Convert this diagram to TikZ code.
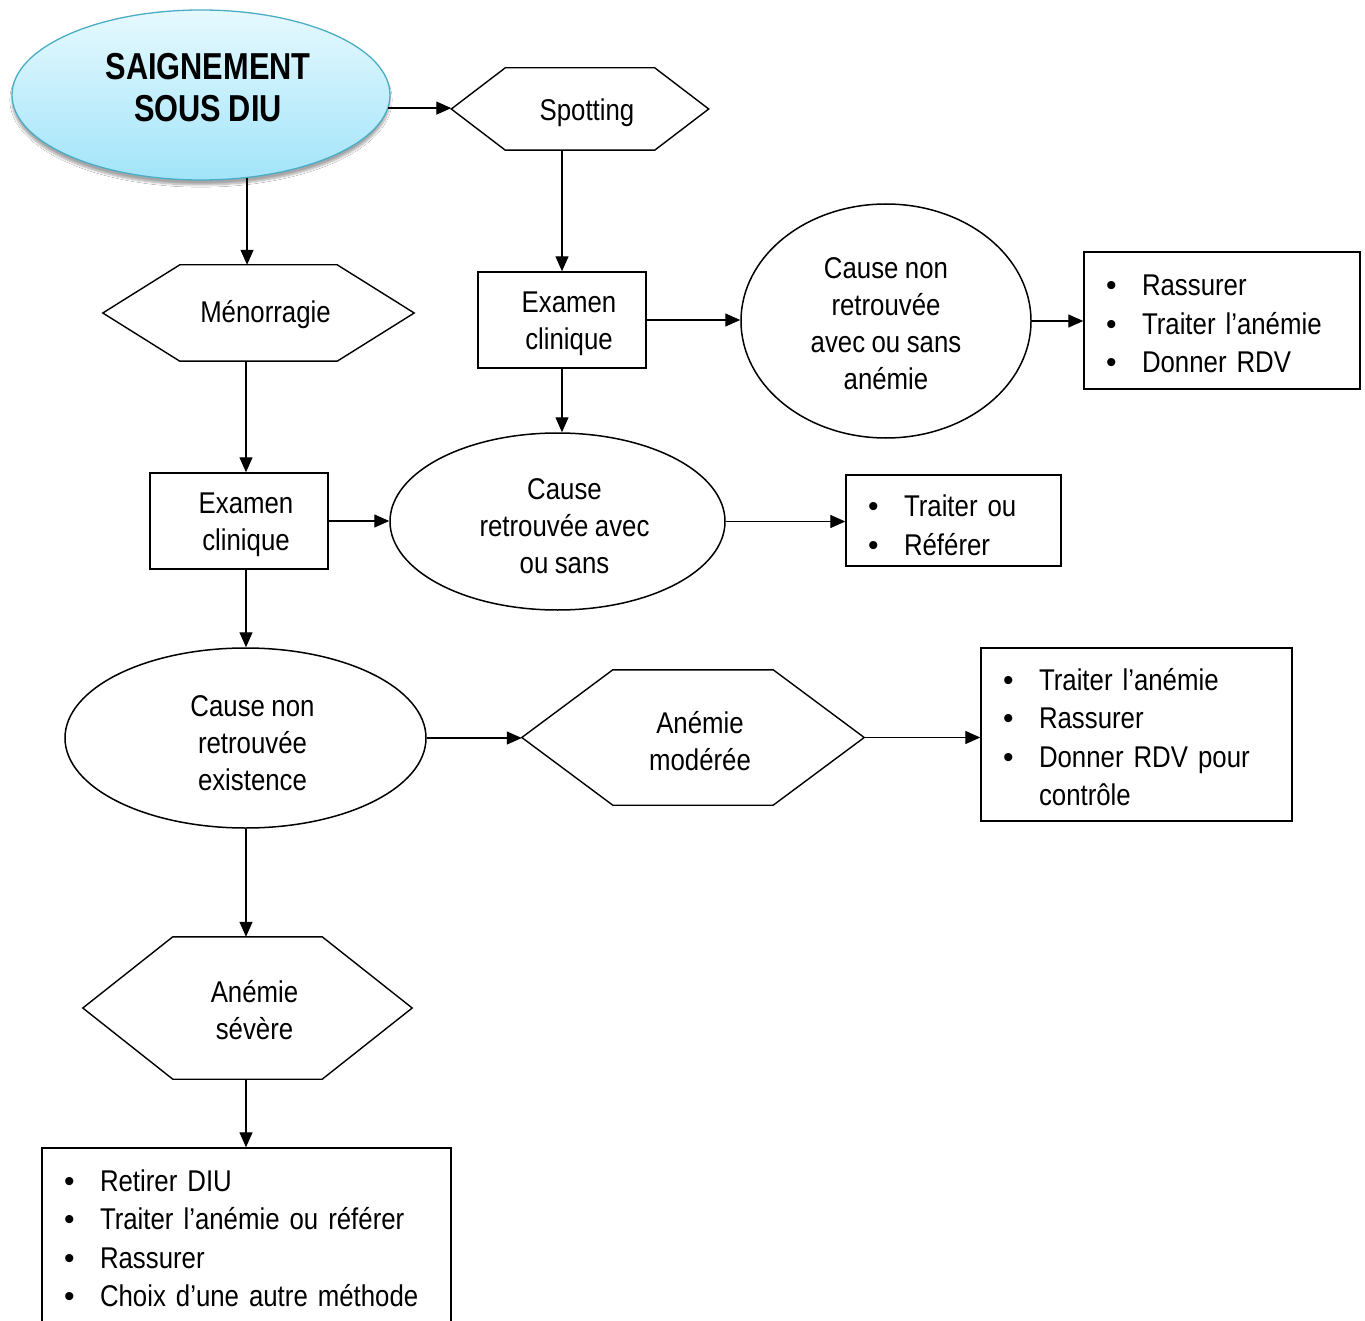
\documentclass[tikz,border=0pt]{standalone}
\usepackage{fontspec}
\setmainfont{Liberation Sans}[FakeStretch=0.86, WordSpace=0.9,
  BoldFeatures={FakeStretch=0.82}]
\newfontfamily\bulfont{Liberation Sans}
\usetikzlibrary{arrows.meta,shapes.geometric,calc,shadows.blur}

\definecolor{aquaTop}{HTML}{E6F9FE}
\definecolor{aquaBot}{HTML}{A2E4F9}
\definecolor{aquaLine}{HTML}{4BACC6}

% centred block of lines, lowered by #1 without changing its size
\newcommand\block[2][0pt]{\raisebox{-#1}[\height][\depth]{\begin{tabular}{@{}c@{}}#2\end{tabular}}}
% same, nudged right inside its frame
\newcommand\ctr[2][0pt]{\hspace*{14pt}\block[#1]{#2}}
% left-aligned bullet list, lowered by #1
\newcommand\lst[2][0pt]{\raisebox{-#1}[\height][\depth]{\begin{tabular}{@{}l@{}}#2\end{tabular}}}
% bullet line of a list box
\newcommand\itm[1]{\makebox[36pt][l]{\bulfont\textbullet}#1}
% hexagon drawn round a named node; #2 = width of the pointed ends
\newcommand\hexframe[2]{%
  \draw[shapeline] (#1.west) -- ($(#1.north west)+(#2,0)$) -- ($(#1.north east)+(-#2,0)$)
    -- (#1.east) -- ($(#1.south east)+(-#2,0)$) -- ($(#1.south west)+(#2,0)$) -- cycle;}

\begin{document}
\begin{tikzpicture}[x=1pt,y=-1pt,
  every node/.style={font=\fontsize{30}{37}\selectfont, inner sep=0pt},
  shapeline/.style={draw=black, line width=1.4pt, line join=miter},
  hexnode/.style={rectangle, minimum width=#1},
  boxnode/.style={rectangle, draw=black, line width=1.4pt},
  ovalnode/.style={ellipse, draw=black, line width=1.5pt},
  listbox/.style={boxnode, font=\fontsize{30}{38.5}\selectfont, align=left,
                  inner xsep=22pt, text width=#1-44pt},
  arr/.style={line width=1.3pt, -{Triangle[length=15pt,width=13pt]}}]

\clip (0,0) rectangle (1365,1321);
\fill[white] (0,0) rectangle (1365,1321);

\coordinate (col) at (246,0);

% start of the chart
\node[ellipse, minimum width=378, minimum height=170, draw=aquaLine, line width=1.3pt,
      top color=aquaTop, bottom color=aquaBot,
      blur shadow={shadow xshift=0pt, shadow yshift=-5pt, shadow opacity=35, shadow blur steps=8}]
      (title) at (201,95) {};
\node[font=\fontsize{37.5}{42}\selectfont\bfseries, align=center] (titletext) at (208,88)
      {SAIGNEMENT\\SOUS DIU};

% hexagons
\node[hexnode=257, minimum height=82] (spot) at (580,109) {\ctr[4pt]{Spotting}};
\hexframe{spot}{54}
\node[hexnode=311, minimum height=96] (meno) at (258.5,313) {\ctr[2pt]{Ménorragie}};
\hexframe{meno}{77}
\node[hexnode=342, minimum height=135] (mod) at (693,737.5) {\ctr[7pt]{Anémie\\modérée}};
\hexframe{mod}{91}
\node[hexnode=329, minimum height=142] (sev) at (247.5,1008) {\ctr[6pt]{Anémie\\sévère}};
\hexframe{sev}{90}

% examination boxes
\node[boxnode, minimum width=168, minimum height=96] (exam1) at (562,320) {\ctr[4pt]{Examen\\clinique}};
\node[boxnode, minimum width=178, minimum height=96] (exam2) at (239,521) {\ctr[4pt]{Examen\\clinique}};

% findings
\node[ovalnode, minimum width=290, minimum height=234] (cnr1) at (886,321)
      {\block[6pt]{Cause non\\retrouvée\\avec ou sans\\anémie}};
\node[ovalnode, minimum width=335, minimum height=177] (cr) at (557.5,521.5)
      {\ctr[8pt]{Cause\\retrouvée avec\\ou sans}};
\node[ovalnode, minimum width=361, minimum height=180] (cnr2) at (245.5,738)
      {\ctr[8pt]{Cause non\\retrouvée\\existence}};

% actions
\node[listbox=276pt, minimum height=137] (box1) at (1222,320.5)
      {\lst[6pt]{\itm{Rassurer}\\\itm{Traiter l’anémie}\\\itm{Donner RDV}}};
\node[listbox=215pt, minimum height=91] (box2) at (953.5,520.5)
      {\lst[8pt]{\itm{Traiter ou}\\\itm{Référer}}};
\node[listbox=311pt, minimum height=173] (box3) at (1136.5,734.5)
      {\lst[6pt]{\itm{Traiter l’anémie}\\\itm{Rassurer}\\\itm{Donner RDV pour}\\\hspace*{36pt}contrôle}};
\node[listbox=409pt, minimum height=181] (box4) at (246.5,1238.5)
      {\lst[3pt]{\itm{Retirer DIU}\\\itm{Traiter l’anémie ou référer}\\\itm{Rassurer}\\\itm{Choix d’une autre méthode}}};

% connectors
\draw[arr] (title.-4.6) -- (title.-4.6 -| spot.west);
\draw[arr] (title.-61) -- (title.-61 |- meno.north);
\draw[arr] (exam1.north |- spot.south) -- (exam1.north);
\draw[arr] (exam1.east) -- (exam1.east -| cnr1.west);
\draw[arr] (cnr1.east) -- (cnr1.east -| box1.west);
\draw[arr] (exam1.south) -- (exam1.south |- cr.north);
\draw[arr] (cr.east) -- (cr.east -| box2.west);
\draw[arr] (meno.south -| col) -- (exam2.north -| col);
\draw[arr] (exam2.east) -- (exam2.east -| cr.west);
\draw[arr] (exam2.south -| col) -- (cnr2.north -| col);
\draw[arr] (cnr2.east) -- (cnr2.east -| mod.west);
\draw[arr] (mod.east) -- (mod.east -| box3.west);
\draw[arr] (cnr2.south -| col) -- (sev.north -| col);
\draw[arr] (sev.south -| col) -- (box4.north -| col);
\end{tikzpicture}
\end{document}
